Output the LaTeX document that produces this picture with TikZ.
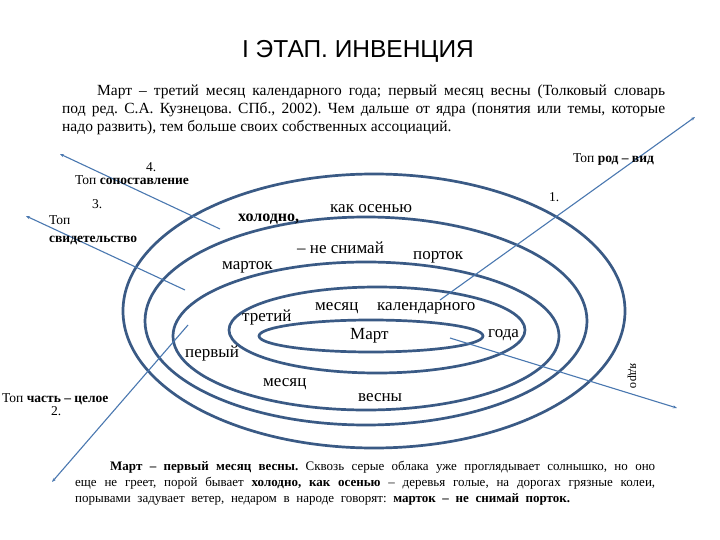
\documentclass[tikz,border=0pt]{standalone}
\usepackage{fontspec}
\setmainfont{Liberation Serif}
\newfontfamily\titlefont{Liberation Sans}
\usetikzlibrary{arrows.meta}
\definecolor{ring}{HTML}{3A5A85}
\definecolor{ray}{HTML}{4A78B0}
\frenchspacing
\begin{document}
\begin{tikzpicture}[x=1pt,y=-1pt,
  ringline/.style={draw=ring, line width=2.7pt},
  rayline/.style={draw=ray, line width=1.1pt, -{Stealth[length=4pt,width=3pt]}},
  word/.style={anchor=base west, inner sep=0pt, font=\fontsize{17}{20}\selectfont},
  lbl/.style={anchor=base west, inner sep=0pt, font=\fontsize{13.5}{15}\selectfont},
  para/.style={anchor=base west, inner sep=0pt, font=\fontsize{15.5}{18}\selectfont},
  note/.style={anchor=base west, inner sep=0pt, font=\fontsize{13}{15}\selectfont}]
\useasboundingbox (0,0) rectangle (720,540);
\fill[white] (0,0) rectangle (720,540);

% title and paragraph
\node[inner sep=0pt, font=\titlefont\fontsize{24.5}{28}\selectfont] (title) at (358,51) {I ЭТАП. ИНВЕНЦИЯ};
\node[para] (p1) at (97,96) {\makebox[568pt][s]{Март – третий месяц календарного года; первый месяц весны (Толковый словарь}};
\node[para] (p2) at (62,114) {\makebox[603pt][s]{под ред. С.А. Кузнецова. СПб., 2002). Чем дальше от ядра (понятия или темы, которые}};
\node[para] (p3) at (62,132) {надо развить), тем больше своих собственных ассоциаций.};

% rings
\draw[ringline] (374,311) ellipse [x radius=251pt, y radius=137pt];
\draw[ringline] (366,321) ellipse [x radius=221pt, y radius=104pt];
\draw[ringline] (366,336) ellipse [x radius=193pt, y radius=74pt];
\draw[ringline] (377,330) ellipse [x radius=148pt, y radius=43pt];
\draw[ringline] (371,336) ellipse [x radius=112pt, y radius=16pt];

% rays
\coordinate (r1a) at (440,300); \coordinate (r1b) at (695,117);
\coordinate (r2a) at (188,325); \coordinate (r2b) at (52,482);
\coordinate (r3a) at (185,290); \coordinate (r3b) at (26,216);
\coordinate (r4a) at (220,229); \coordinate (r4b) at (60,154);
\coordinate (r5a) at (450,338); \coordinate (r5b) at (677,408);
\draw[rayline] (r1a) -- (r1b);
\draw[rayline] (r2a) -- (r2b);
\draw[rayline] (r3a) -- (r3b);
\draw[rayline] (r4a) -- (r4b);
\draw[rayline] (r5a) -- (r5b);

% words in rings
\node[word, font=\fontsize{16}{20}\selectfont\bfseries] (w1) at (238,222) {холодно,};
\node[word] (w2) at (330,213) {как осенью};
\node[word] (w3) at (297,254) {– не снимай};
\node[word] (w4) at (413,259) {порток};
\node[word] (w5) at (222,269) {марток};
\node[word] (w6) at (315,310) {месяц};
\node[word] (w7) at (377,310) {календарного};
\node[word] (w8) at (242,321) {третий};
\node[word] (w9) at (350,339) {Март};
\node[word] (w10) at (488,337) {года};
\node[word] (w11) at (185,357) {первый};
\node[word] (w12) at (263,386) {месяц};
\node[word] (w13) at (358,401) {весны};

% topos labels
\node[lbl] (n4) at (146,172) {4.};
\node[lbl] (t4) at (75,185) {Топ \textbf{сопоставление}};
\node[lbl] (n3) at (92,208) {3.};
\node[lbl] (t3a) at (49,225) {Топ};
\node[lbl] (t3b) at (49,242) {\textbf{свидетельство}};
\node[lbl] (t1) at (573,163) {Топ \textbf{род – вид}};
\node[lbl] (n1) at (549,202) {1.};
\node[lbl] (t2) at (2,402) {Топ \textbf{часть – целое}};
\node[lbl] (n2) at (51,415) {2.};
\node[inner sep=0pt, font=\fontsize{12.5}{14}\selectfont, rotate=-90] (core) at (632,376) {ядро};

% bottom paragraph
\node[note] (b1) at (110,470) {\makebox[545pt][s]{\textbf{Март – первый месяц весны.} Сквозь серые облака уже проглядывает солнышко, но оно}};
\node[note] (b2) at (75,486) {\makebox[580pt][s]{еще не греет, порой бывает \textbf{холодно, как осенью} – деревья голые, на дорогах грязные колеи,}};
\node[note] (b3) at (75,502) {\makebox[495pt][s]{порывами задувает ветер, недаром в народе говорят: \textbf{марток – не снимай порток.}}};
\end{tikzpicture}
\end{document}
